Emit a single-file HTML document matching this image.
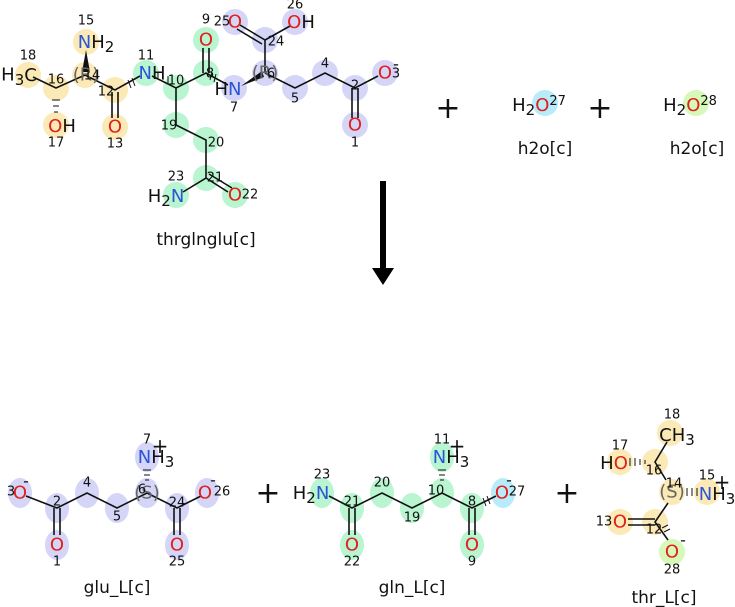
<!DOCTYPE html>
<html><head><meta charset="utf-8"><style>
body{margin:0;background:#fff;width:735px;height:607px;overflow:hidden}
svg{display:block}
text{font-family:"DejaVu Sans","Liberation Sans",sans-serif}
.a{font-size:18px;text-anchor:middle;dominant-baseline:central}
.n{font-size:13px;fill:#111;text-anchor:middle;dominant-baseline:central}
.l{font-size:17px;text-anchor:middle;fill:#111}
.b{stroke:#111;stroke-width:1.6;fill:none}
.y{fill:#fbe9b6}.g{fill:#b8f5d0}.p{fill:#d5d5f8}.c{fill:#b8ecfb}.lg{fill:#d6f8b8}
.r{fill:#e0201a}.bl{fill:#2a55d8}.k{fill:#111}
</style></head><body>
<svg width="735" height="607" viewBox="0 0 735 607">
<g>
<circle class="y" cx="28" cy="75" r="13"/><circle class="y" cx="56" cy="88" r="13"/><circle class="y" cx="56" cy="125" r="13"/>
<circle class="y" cx="85" cy="75" r="13"/><circle class="y" cx="86" cy="42" r="13"/><circle class="y" cx="115" cy="90" r="13"/><circle class="y" cx="115" cy="127" r="13"/>
<circle class="g" cx="146" cy="73" r="13"/><circle class="g" cx="176" cy="88" r="13"/><circle class="g" cx="206" cy="73" r="13"/><circle class="g" cx="206" cy="40" r="13"/>
<circle class="g" cx="176" cy="125" r="13"/><circle class="g" cx="206" cy="140" r="13"/><circle class="g" cx="206" cy="178" r="13"/><circle class="g" cx="235" cy="195" r="13"/><circle class="g" cx="176" cy="195" r="13"/>
<circle class="p" cx="234" cy="88" r="13"/><circle class="p" cx="265" cy="73" r="13"/><circle class="p" cx="265" cy="40" r="13"/><circle class="p" cx="235" cy="22" r="13"/><circle class="p" cx="295" cy="22" r="13"/>
<circle class="p" cx="295" cy="88" r="13"/><circle class="p" cx="325" cy="73" r="13"/><circle class="p" cx="355" cy="88" r="13"/><circle class="p" cx="385" cy="73" r="13"/><circle class="p" cx="355" cy="125" r="13"/>
</g>
<g class="b">
<path d="M33 77 L56 88 L85 75 L115 90 L140 76"/>
<path d="M112 92 V118 M118 92 V118"/>
<path d="M152 76 L176 88 L206 73 L228 85"/>
<path d="M203 73 V48 M209 73 V48"/>
<path d="M176 88 V125 L206 140 V178 L183 192"/>
<path d="M206 178 L228 192 M209 174 L232 188"/>
<path d="M265 73 V40 L290 26"/>
<path d="M265 40 L240 25 M262 44 L237 29"/>
<path d="M265 73 L295 88 L325 73 L355 88 L378 76"/>
<path d="M352 88 V118 M358 88 V118"/>
</g>
<path d="M86 50 L82 72 L90 72Z" class="k"/>
<path d="M241 86 L262 71 L264 77Z" class="k"/>
<g stroke="#111" stroke-width="1"><path d="M52 100h8M53 106h6M54 112h4M158 72v6M163 73v7M168 76v8M128 80l3 8M132 78l3 8M212 72l-2 8M216 74l-2 8"/></g>
<text class="a k" x="19" y="75">H<tspan dy="5" font-size="15">3</tspan><tspan dy="-5">C</tspan></text>
<text class="a" x="96" y="42"><tspan class="bl">N</tspan><tspan class="k">H</tspan><tspan class="k" dy="5" font-size="15">2</tspan></text>
<text class="a" x="62" y="126"><tspan class="r">O</tspan><tspan class="k">H</tspan></text>
<text class="a r" x="115" y="127">O</text>
<text class="a" x="152" y="73"><tspan class="bl">N</tspan><tspan class="k">H</tspan></text>
<text class="a r" x="206" y="40">O</text>
<text class="a" x="228" y="89"><tspan class="k">H</tspan><tspan class="bl">N</tspan></text>
<text class="a" x="166" y="196"><tspan class="k">H</tspan><tspan class="k" dy="5" font-size="15">2</tspan><tspan class="bl" dy="-5">N</tspan></text>
<text class="a r" x="235" y="195">O</text>
<text class="a r" x="235" y="22">O</text>
<text class="a" x="301" y="22"><tspan class="r">O</tspan><tspan class="k">H</tspan></text>
<text class="a r" x="385" y="73">O</text>
<text class="a r" x="355" y="125">O</text>
<text class="a" x="86" y="75" fill="#666" font-size="16">(R)</text>
<text class="a" x="265" y="73" fill="#666" font-size="16">(R)</text>
<g class="n">
<text x="28" y="56">18</text><text x="56" y="80">16</text><text x="56" y="143">17</text><text x="92" y="76">14</text><text x="86" y="21">15</text>
<text x="106" y="92">12</text><text x="115" y="144">13</text><text x="146" y="56">11</text><text x="176" y="81">10</text><text x="210" y="74">8</text>
<text x="206" y="20">9</text><text x="234" y="108">7</text><text x="271" y="74">6</text><text x="276" y="42">24</text><text x="222" y="22">25</text>
<text x="295" y="5">26</text><text x="295" y="99">5</text><text x="325" y="64">4</text><text x="355" y="86">2</text><text x="396" y="74">3</text>
<text x="355" y="143">1</text><text x="169" y="126">19</text><text x="216" y="143">20</text><text x="215" y="178">21</text><text x="250" y="195">22</text>
<text x="176" y="177">23</text><text x="396" y="64" font-size="16">-</text>
</g>
<text class="l" x="206" y="245">thrglnglu[c]</text>
<rect x="380" y="181" width="6" height="90" fill="#000"/>
<path d="M372 268 H394 L383 285Z" fill="#000"/>
<g class="k" font-size="30" text-anchor="middle"><text x="448" y="118">+</text><text x="600" y="118">+</text><text x="268" y="503">+</text><text x="567" y="503">+</text></g>
<circle class="c" cx="545" cy="103" r="13"/><circle class="lg" cx="696" cy="103" r="13"/>
<text class="a" x="539" y="105"><tspan class="k">H</tspan><tspan class="k" dy="5" font-size="15">2</tspan><tspan class="r" dy="-5">O</tspan><tspan class="k" dy="-4" font-size="13">27</tspan></text>
<text class="a" x="690" y="105"><tspan class="k">H</tspan><tspan class="k" dy="5" font-size="15">2</tspan><tspan class="r" dy="-5">O</tspan><tspan class="k" dy="-4" font-size="13">28</tspan></text>
<text class="l" x="545" y="154">h2o[c]</text><text class="l" x="697" y="154">h2o[c]</text>
<g>
<ellipse class="p" cx="20" cy="493" rx="12" ry="15"/><ellipse class="p" cx="57" cy="508" rx="12" ry="15"/><ellipse class="p" cx="57" cy="545" rx="12" ry="15"/><ellipse class="p" cx="87" cy="493" rx="12" ry="15"/>
<ellipse class="p" cx="117" cy="508" rx="12" ry="15"/><ellipse class="p" cx="147" cy="493" rx="12" ry="15"/><ellipse class="p" cx="147" cy="457" rx="12" ry="15"/><ellipse class="p" cx="177" cy="508" rx="12" ry="15"/>
<ellipse class="p" cx="177" cy="545" rx="12" ry="15"/><ellipse class="p" cx="207" cy="493" rx="12" ry="15"/>
</g>
<g class="b"><path d="M26 496 L57 508 L87 493 L117 508 L147 493 L177 508 L201 496"/><path d="M54 508 V535 M60 508 V535 M174 508 V535 M180 508 V535"/></g>
<g stroke="#111" stroke-width="1"><path d="M143 470h8M144 475h6M145 480h4"/></g>
<text class="a r" x="20" y="493">O</text><text class="a r" x="57" y="545">O</text><text class="a r" x="177" y="545">O</text><text class="a r" x="205" y="493">O</text>
<text class="a" x="156" y="457"><tspan class="bl">N</tspan><tspan class="k">H</tspan><tspan class="k" dy="5" font-size="15">3</tspan></text>
<text class="a" x="147" y="493" fill="#666" font-size="16">(S)</text>
<g class="n"><text x="11" y="492">3</text><text x="26" y="481" font-size="16">-</text><text x="57" y="502">2</text><text x="57" y="562">1</text><text x="87" y="483">4</text><text x="117" y="517">5</text><text x="142" y="490">6</text>
<text x="147" y="440">7</text><text x="177" y="503">24</text><text x="177" y="562">25</text><text x="222" y="492">26</text><text x="213" y="480" font-size="16">-</text><text x="160" y="446" font-size="20">+</text></g>
<text class="l" x="117" y="593">glu_L[c]</text>
<g>
<ellipse class="g" cx="322" cy="493" rx="12" ry="15"/><ellipse class="g" cx="352" cy="508" rx="12" ry="15"/><ellipse class="g" cx="352" cy="545" rx="12" ry="15"/><ellipse class="g" cx="382" cy="493" rx="12" ry="15"/>
<ellipse class="g" cx="412" cy="508" rx="12" ry="15"/><ellipse class="g" cx="442" cy="493" rx="12" ry="15"/><ellipse class="g" cx="442" cy="457" rx="12" ry="15"/><ellipse class="g" cx="472" cy="508" rx="12" ry="15"/>
<ellipse class="g" cx="472" cy="545" rx="12" ry="15"/><ellipse class="c" cx="503" cy="493" rx="12" ry="15"/>
</g>
<g class="b"><path d="M329 496 L352 508 L382 493 L412 508 L442 493 L472 508 L496 496"/><path d="M349 508 V535 M355 508 V535 M469 508 V535 M475 508 V535"/></g>
<g stroke="#111" stroke-width="1"><path d="M438 470h8M439 475h6M440 480h4M483 498l3 8M487 496l3 8"/></g>
<text class="a" x="311" y="493"><tspan class="k">H</tspan><tspan class="k" dy="5" font-size="15">2</tspan><tspan class="bl" dy="-5">N</tspan></text>
<text class="a r" x="352" y="545">O</text><text class="a r" x="472" y="545">O</text><text class="a r" x="502" y="493">O</text>
<text class="a" x="451" y="457"><tspan class="bl">N</tspan><tspan class="k">H</tspan><tspan class="k" dy="5" font-size="15">3</tspan></text>
<g class="n"><text x="322" y="475">23</text><text x="352" y="502">21</text><text x="352" y="562">22</text><text x="382" y="483">20</text><text x="412" y="518">19</text><text x="436" y="491">10</text>
<text x="442" y="440">11</text><text x="472" y="502">8</text><text x="472" y="562">9</text><text x="517" y="492">27</text><text x="509" y="480" font-size="16">-</text><text x="457" y="446" font-size="20">+</text></g>
<text class="l" x="412" y="593">gln_L[c]</text>
<g>
<circle class="y" cx="670" cy="433" r="13"/><circle class="y" cx="655" cy="462" r="13"/><circle class="y" cx="620" cy="462" r="13"/><circle class="y" cx="672" cy="492" r="13"/>
<circle class="y" cx="707" cy="492" r="13"/><circle class="y" cx="655" cy="522" r="13"/><circle class="y" cx="620" cy="522" r="13"/><circle class="lg" cx="672" cy="552" r="13"/>
</g>
<g class="b"><path d="M667 442 L655 462 L666 480 M668 503 L655 522 L668 540"/><path d="M628 519 H655 M628 525 H655"/></g>
<g stroke="#111" stroke-width="1"><path d="M630 458v8M635 458v8M640 459v6M645 460v4M687 488v8M692 488v8M697 488v8M662 528l6 -3M664 532l6 -3"/></g>
<text class="a" x="677" y="435"><tspan class="k">CH</tspan><tspan class="k" dy="5" font-size="15">3</tspan></text>
<text class="a" x="614" y="463"><tspan class="k">H</tspan><tspan class="r">O</tspan></text>
<text class="a" x="717" y="494"><tspan class="bl">N</tspan><tspan class="k">H</tspan><tspan class="k" dy="5" font-size="15">3</tspan></text>
<text class="a r" x="620" y="522">O</text><text class="a r" x="672" y="552">O</text>
<text class="a" x="672" y="492" fill="#666" font-size="16">(S)</text>
<g class="n"><text x="672" y="415">18</text><text x="620" y="446">17</text><text x="654" y="471">16</text><text x="674" y="484">14</text><text x="707" y="476">15</text><text x="722" y="482" font-size="20">+</text>
<text x="604" y="522">13</text><text x="654" y="530">12</text><text x="672" y="570">28</text><text x="683" y="540" font-size="16">-</text></g>
<text class="l" x="664" y="603">thr_L[c]</text>
</svg>
</body></html>
